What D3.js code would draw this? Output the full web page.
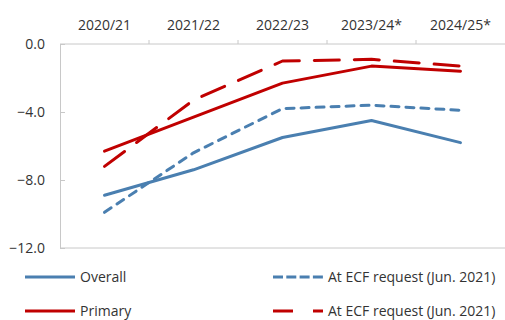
<!DOCTYPE html>
<html>
<head>
<meta charset="utf-8">
<script src="https://cdn.jsdelivr.net/npm/d3@7"></script>
<style>
  html, body { margin: 0; padding: 0; background: #fff; }
  svg text { font-family: "Open Sans", "Noto Sans", sans-serif; fill: #333; }
</style>
</head>
<body>
<svg id="chart" width="505" height="320"></svg>
<script>
// Fiscal years along the top axis
const years = ["2020/21", "2021/22", "2022/23", "2023/24*", "2024/25*"];
// Fiscal balance, % of GDP
const overall = [-8.9, -7.4, -5.5, -4.5, -5.8];
const overallEcf = [-9.9, -6.4, -3.8, -3.6, -3.9];
const primary = [-6.3, -4.3, -2.3, -1.3, -1.6];
const primaryEcf = [-7.2, -3.3, -1.0, -0.9, -1.3];
const yTicks = [0, -4, -8, -12];

const blue = "#4a7fb0", red = "#c00000", axisGrey = "#c8c8c8";

const svg = d3.select("#chart");
const m = { left: 60, right: 505, top: 44, bottom: 248 };

const x = d3.scaleBand().domain(years).range([m.left, m.right]);
const y = d3.scaleLinear().domain([-12, 0]).range([m.bottom, m.top]);

// Top axis with category labels
const xAxis = svg.append("g").attr("transform", `translate(0,${m.top})`)
  .call(d3.axisTop(x).tickSize(0).tickPadding(14));
xAxis.select(".domain").remove();
xAxis.selectAll("text").style("font-size", "14px");
svg.append("line").attr("x1", m.left).attr("x2", m.right)
  .attr("y1", m.top).attr("y2", m.top).attr("stroke", axisGrey);
// boundary ticks between categories
svg.selectAll("line.btick").data(years.slice(1)).join("line")
  .attr("class", "btick")
  .attr("x1", d => x(d)).attr("x2", d => x(d))
  .attr("y1", m.top - 4).attr("y2", m.top)
  .attr("stroke", axisGrey);

// Left value axis, ticks pointing into the plot
const yAxis = svg.append("g").attr("transform", `translate(${m.left},0)`)
  .call(d3.axisLeft(y).tickValues(yTicks).tickFormat(d3.format(".1f")).tickSize(-5).tickPadding(15));
yAxis.select(".domain").attr("stroke", axisGrey);
yAxis.selectAll(".tick line").attr("stroke", axisGrey);
yAxis.selectAll("text").style("font-size", "14px");

// Bottom frame line
svg.append("line").attr("x1", m.left).attr("x2", m.right)
  .attr("y1", m.bottom).attr("y2", m.bottom).attr("stroke", axisGrey);

const line = d3.line()
  .x((d, i) => x(years[i]) + x.bandwidth() / 2)
  .y(d => y(d));

const series = [
  { values: overall, color: blue, dash: null },
  { values: overallEcf, color: blue, dash: "8 7" },
  { values: primary, color: red, dash: null },
  { values: primaryEcf, color: red, dash: "25 15" }
];

svg.selectAll("path.series").data(series).join("path")
  .attr("class", "series")
  .attr("d", d => line(d.values))
  .attr("fill", "none")
  .attr("stroke", d => d.color)
  .attr("stroke-width", 3)
  .attr("stroke-linecap", "round")
  .attr("stroke-linejoin", "round")
  .attr("stroke-dasharray", d => d.dash);

// Legend
const legend = [
  { label: "Overall", color: blue, dash: null, lx: 25, ly: 277 },
  { label: "At ECF request (Jun. 2021)", color: blue, dash: "10 3.3", lx: 273, ly: 277 },
  { label: "Primary", color: red, dash: null, lx: 25, ly: 311 },
  { label: "At ECF request (Jun. 2021)", color: red, dash: "20 20", lx: 273, ly: 311 }
];
const lg = svg.selectAll("g.leg").data(legend).join("g")
  .attr("class", "leg")
  .attr("transform", d => `translate(${d.lx},${d.ly})`);
lg.append("line")
  .attr("x1", 0).attr("x2", 50).attr("y1", 0).attr("y2", 0)
  .attr("stroke", d => d.color).attr("stroke-width", 3)
  .attr("stroke-dasharray", d => d.dash);
lg.append("text")
  .attr("x", 55).attr("y", 0).attr("dy", "0.35em")
  .style("font-size", "14px")
  .text(d => d.label);
</script>
</body>
</html>
